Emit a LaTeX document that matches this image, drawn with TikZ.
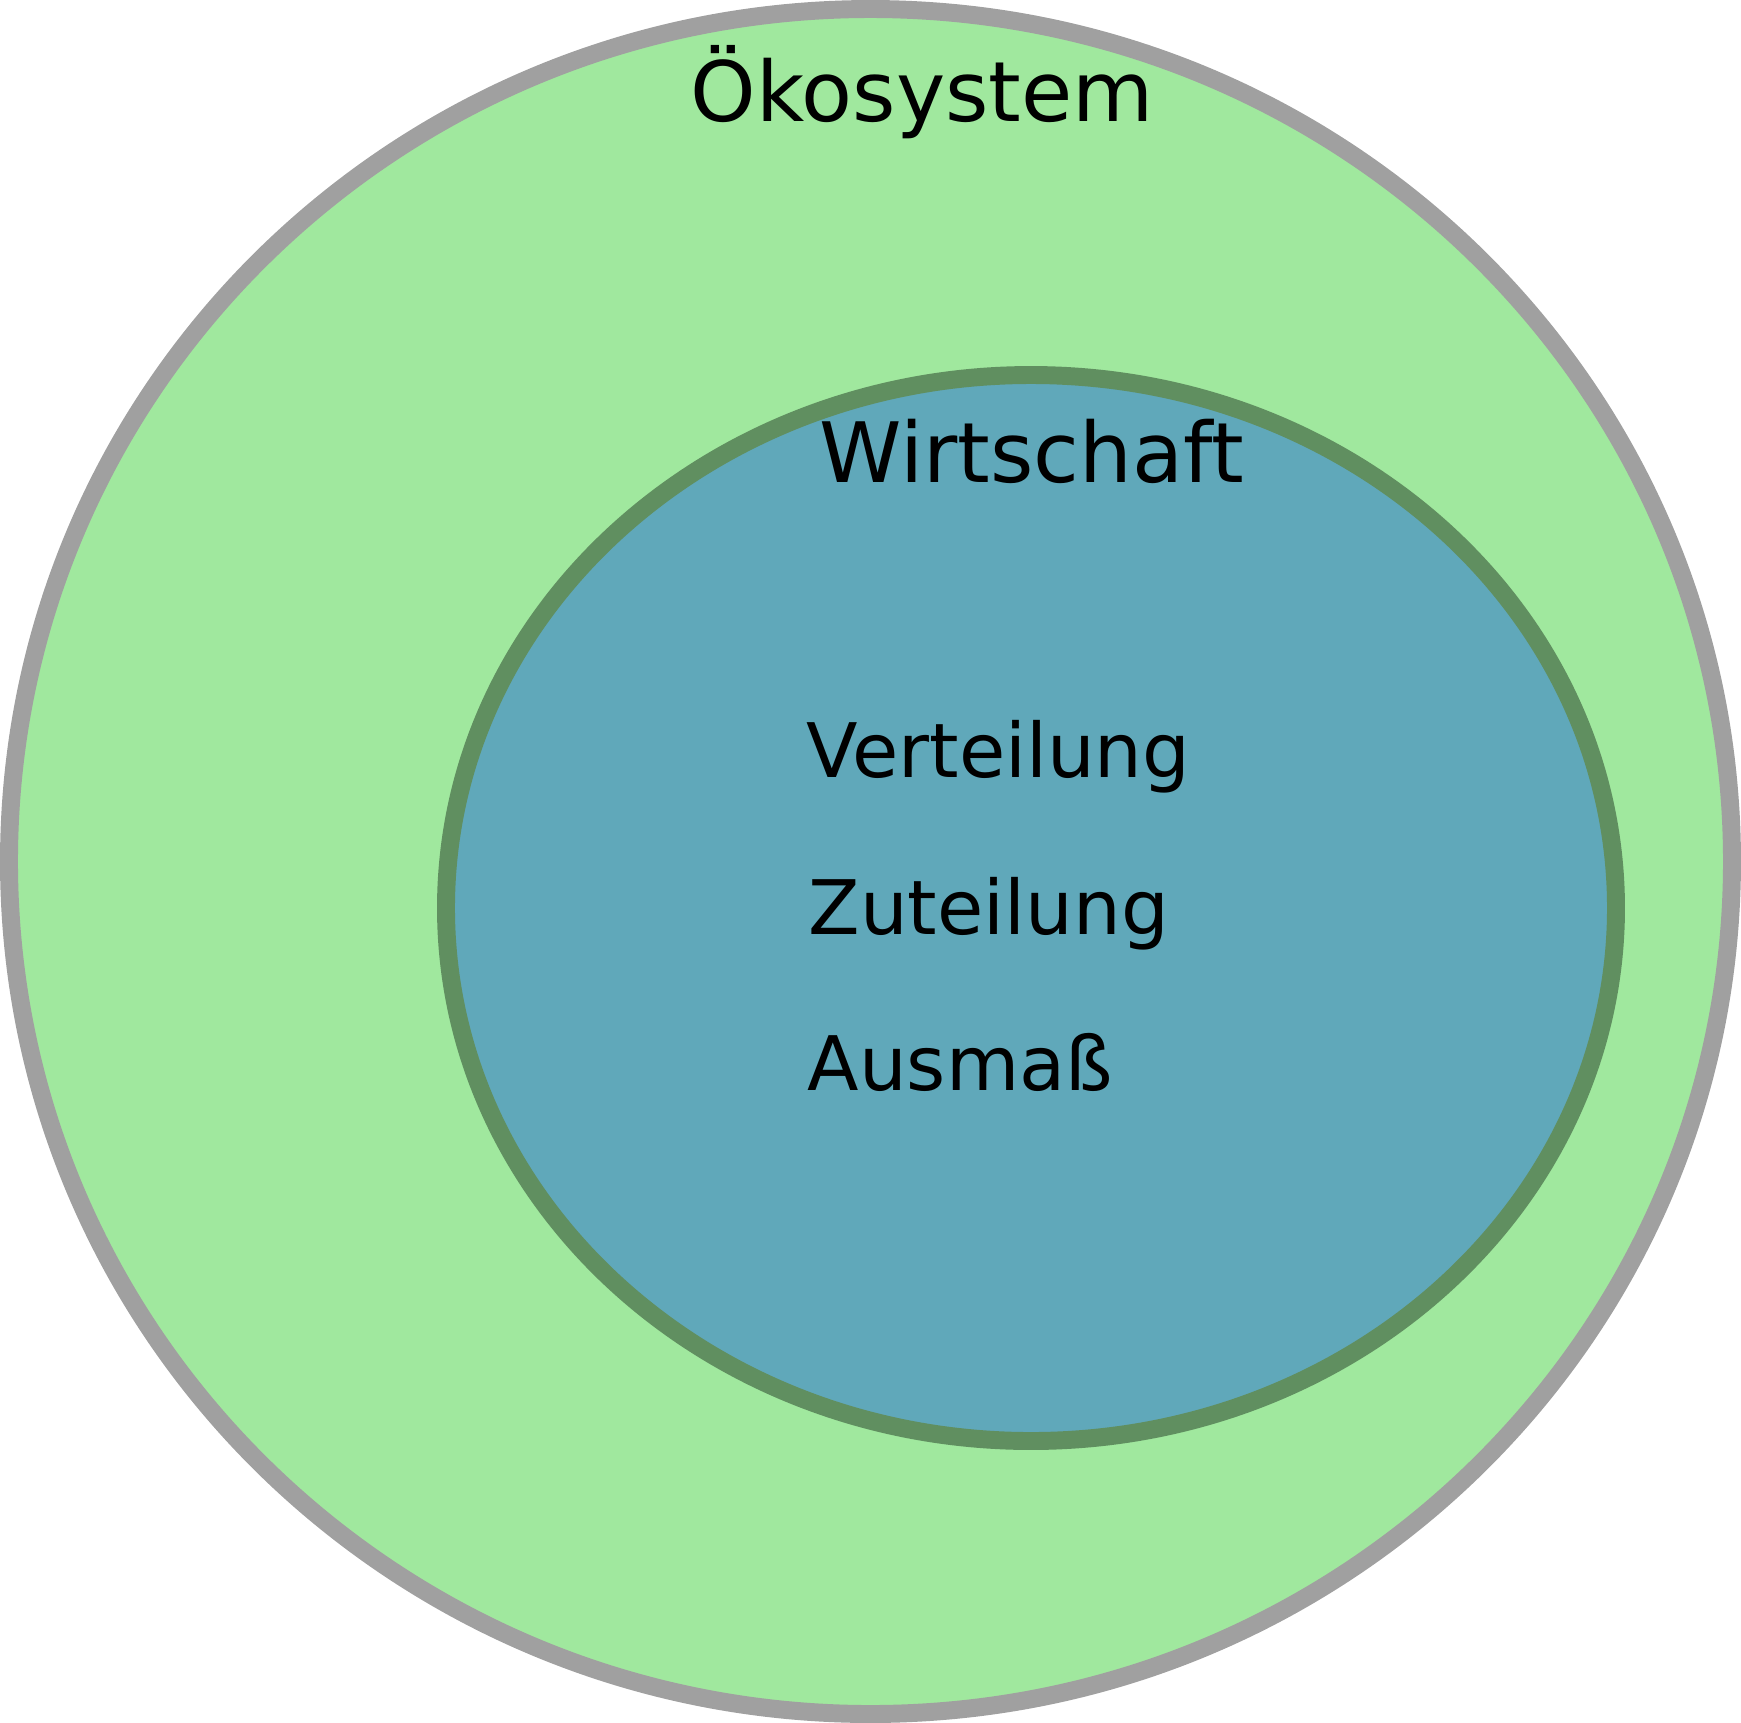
\documentclass[tikz,border=0pt]{standalone}
\usepackage{fontspec}
\setmainfont{DejaVu Sans}
\usepackage{xcolor}
\usetikzlibrary{positioning}

\definecolor{ecofill}{RGB}{160,232,158}
\definecolor{ecoline}{RGB}{160,160,160}
\definecolor{econfill}{RGB}{96,168,186}
\definecolor{econline}{RGB}{96,143,96}

\begin{document}
\begin{tikzpicture}[
  x=0.01cm, y=-0.01cm,
  sphere/.style={line width=5.1pt},
  outersphere/.style={sphere, draw=ecoline, fill=ecofill},
  innersphere/.style={sphere, draw=econline, fill=econfill},
  title/.style={inner sep=0pt, anchor=base west, font=\fontsize{23.7}{28}\selectfont},
  item/.style={inner sep=0pt, anchor=base west, font=\fontsize{21.4}{25}\selectfont}
]
\useasboundingbox (0,0) rectangle (1741,1723);

\draw[outersphere] (870.5,861.5) ellipse [x radius=861.5, y radius=852.5];
\draw[innersphere] (1031,908) ellipse [x radius=585, y radius=533];

\node[title] (eco) at (690,121) {Ökosystem};
\node[title] (econ) at (819,482) {Wirtschaft};

\node[item] (vert) at (806,777.5) {Verteilung};
\node[item] (zut) at (808,934) {Zuteilung};
\node[item] (ausm) at (807,1090) {Ausmaß};
\end{tikzpicture}
\end{document}
